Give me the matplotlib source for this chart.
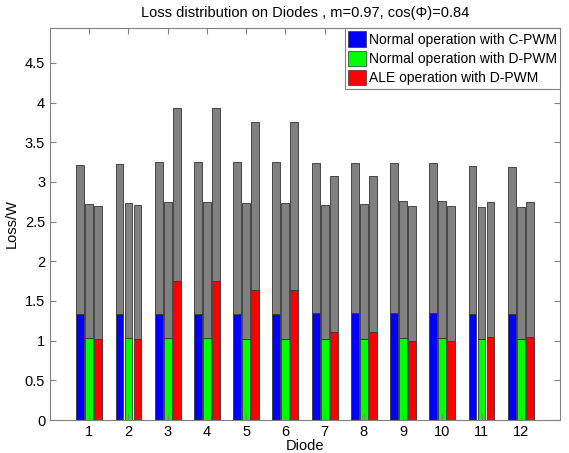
import numpy as np
import matplotlib.pyplot as plt
from matplotlib.patches import Patch

plt.rcParams['font.family'] = ['Liberation Sans', 'DejaVu Sans']

diodes = np.arange(1, 13)
# lower (coloured) part and total height of each bar
cpwm_low = [1.34, 1.34, 1.34, 1.34, 1.33, 1.33, 1.345, 1.345, 1.345, 1.345, 1.33, 1.33]
cpwm_total = [3.21, 3.22, 3.25, 3.25, 3.25, 3.25, 3.24, 3.24, 3.245, 3.245, 3.20, 3.19]
dpwm_low = [1.03, 1.03, 1.03, 1.03, 1.02, 1.02, 1.02, 1.02, 1.03, 1.03, 1.02, 1.02]
dpwm_total = [2.72, 2.73, 2.75, 2.75, 2.73, 2.73, 2.71, 2.72, 2.76, 2.76, 2.69, 2.68]
ale_low = [1.02, 1.02, 1.75, 1.75, 1.64, 1.64, 1.11, 1.11, 0.99, 0.99, 1.04, 1.04]
ale_total = [2.70, 2.71, 3.93, 3.93, 3.76, 3.76, 3.08, 3.08, 2.70, 2.70, 2.745, 2.745]

labels = ['Normal operation with C-PWM', 'Normal operation with D-PWM', 'ALE operation with D-PWM']
colors = ['#0000ff', '#00ff00', '#ff0000']

fig = plt.figure(figsize=(5.69, 4.53), dpi=100)
ax = fig.add_axes([50/569, 1 - 420/453, 510/569, 392/453])

w = 0.2
offs = [-0.23, 0, 0.23]
series = [(cpwm_low, cpwm_total), (dpwm_low, dpwm_total), (ale_low, ale_total)]
for (low, tot), c, o in zip(series, colors, offs):
    low = np.array(low)
    tot = np.array(tot)
    ax.bar(diodes + o, low, w, color=c, edgecolor='#333333', linewidth=0.6)
    ax.bar(diodes + o, tot - low, w, bottom=low, color='#808080', edgecolor='#333333', linewidth=0.6)

ax.set_xlim(0, 13)
ax.set_ylim(0, 4.94)
ax.set_xticks(diodes)
ax.set_yticks(np.arange(0, 5, 0.5))
ax.set_yticklabels(['0', '0.5', '1', '1.5', '2', '2.5', '3', '3.5', '4', '4.5'])
for s in ax.spines.values():
    s.set_color('#808080')
ax.tick_params(direction='in', top=True, right=True, labelsize=10.5, length=4,
               color='#808080', labelcolor='black')
ax.set_xlabel('Diode', fontsize=10.5, labelpad=0)
ax.set_ylabel('Loss/W', fontsize=10.5, labelpad=4)
ax.set_title('Loss distribution on Diodes , m=0.97, cos(\u03a6)=0.84', fontsize=10.5, pad=8)

handles = [Patch(facecolor=c, edgecolor='#333333', linewidth=0.5) for c in colors]
leg = ax.legend(handles, labels, loc='upper right', borderaxespad=0, fontsize=10,
                fancybox=False, framealpha=1, edgecolor='#808080',
                handlelength=1.3, handleheight=1.3, handletextpad=0.15,
                labelspacing=0.3, borderpad=0.25)
leg.get_frame().set_linewidth(0.8)

fig.savefig('out.png')
